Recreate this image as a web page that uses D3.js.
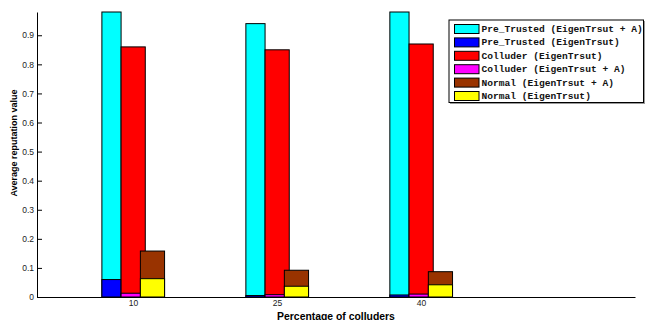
<!DOCTYPE html>
<html><head><meta charset="utf-8">
<script src="https://cdn.jsdelivr.net/npm/d3@7/dist/d3.min.js"></script>
<style>body{margin:0;background:#fff}svg{display:block}</style>
</head><body>
<script>
const categories = [10, 25, 40];
const preTrustedA = [0.98, 0.94, 0.98];
const preTrustedE = [0.06, 0.005, 0.007];
const colluderE = [0.86, 0.85, 0.87];
const colluderA = [0.013, 0.008, 0.01];
const normalA = [0.158, 0.092, 0.087];
const normalE = [0.063, 0.037, 0.042];
const yTicks = [0, 0.1, 0.2, 0.3, 0.4, 0.5, 0.6, 0.7, 0.8, 0.9];
const legendLabels = ["Pre_Trusted (EigenTrsut + A)", "Pre_Trusted (EigenTrsut)", "Colluder (EigenTrsut)", "Colluder (EigenTrsut + A)", "Normal (EigenTrsut + A)", "Normal (EigenTrsut)"];
const legendColors = ["#00ffff", "#0000ff", "#ff0000", "#ff00ff", "#993300", "#ffff00"];

const W = 646, H = 320;
const svg = d3.select("body").append("svg").attr("width", W).attr("height", H);
const x = d3.scaleLinear().domain([0, 62.3]).range([37, 635]);
const y = d3.scaleLinear().domain([0, 0.98]).range([297, 12]);

// bar groups: [values, offset(data units), width(data units), color]
const layers = [
  [preTrustedA, -2.24, 2.0, legendColors[0]],
  [preTrustedE, -2.24, 2.0, legendColors[1]],
  [colluderE, 0.02, 2.52, legendColors[2]],
  [colluderA, 0.02, 2.52, legendColors[3]],
  [normalA, 2.03, 2.52, legendColors[4]],
  [normalE, 2.03, 2.52, legendColors[5]]
];
layers.forEach(([vals, off, w, col]) => {
  svg.append("g").selectAll("rect").data(vals).join("rect")
    .attr("x", (d, i) => x(categories[i] + off - w / 2))
    .attr("width", (d, i) => x(categories[i] + off + w / 2) - x(categories[i] + off - w / 2))
    .attr("y", d => y(d))
    .attr("height", d => y(0) - y(d))
    .attr("fill", col).attr("stroke", "#000").attr("stroke-width", 1);
});

// axes
const yAxis = d3.axisLeft(y).tickValues(yTicks).tickFormat(d => d === 0 ? "0" : d3.format(".1f")(d)).tickSizeInner(-5).tickSizeOuter(0).tickPadding(3);
const gy = svg.append("g").attr("transform", "translate(37,0)").call(yAxis);
gy.select(".domain").attr("stroke", "#000");
gy.selectAll("text").attr("font-family", "Liberation Sans, Arial, sans-serif").attr("font-size", "8.5px").attr("fill", "#222");

const xAxis = d3.axisBottom(x).tickValues(categories).tickFormat(d3.format("d")).tickSizeInner(0).tickSizeOuter(0).tickPadding(3);
const gx = svg.append("g").attr("transform", "translate(0,297)").call(xAxis);
gx.select(".domain").attr("stroke", "#000");
gx.selectAll("text").attr("font-family", "Liberation Sans, Arial, sans-serif").attr("font-size", "8.5px").attr("fill", "#222");

svg.append("text").attr("x", 336).attr("y", 319.5).attr("text-anchor", "middle")
  .attr("font-family", "Liberation Sans, Arial, sans-serif").attr("font-weight", "bold").attr("font-size", "10.4px")
  .text("Percentage of colluders");
svg.append("text").attr("transform", "translate(17,143) rotate(-90)").attr("text-anchor", "middle")
  .attr("font-family", "Liberation Sans, Arial, sans-serif").attr("font-weight", "bold").attr("font-size", "9px")
  .text("Average reputation value");

// legend
const lg = svg.append("g");
lg.append("rect").attr("x", 450).attr("y", 21).attr("width", 195).attr("height", 83).attr("fill", "#999");
lg.append("rect").attr("x", 449).attr("y", 20).attr("width", 194.5).attr("height", 82.5).attr("fill", "#fff").attr("stroke", "#000").attr("stroke-width", 1);
legendLabels.forEach((t, i) => {
  const cy = 29 + i * 13.4;
  lg.append("rect").attr("x", 454.5).attr("y", cy - 4.5).attr("width", 24.5).attr("height", 9)
    .attr("fill", legendColors[i]).attr("stroke", "#000").attr("stroke-width", 1);
  lg.append("text").attr("x", 481.5).attr("y", cy + 3)
    .attr("font-family", "Liberation Mono, Courier New, monospace").attr("font-weight", "bold").attr("font-size", "9.6px")
    .attr("fill", "#111").text(t);
});
</script>
</body></html>
